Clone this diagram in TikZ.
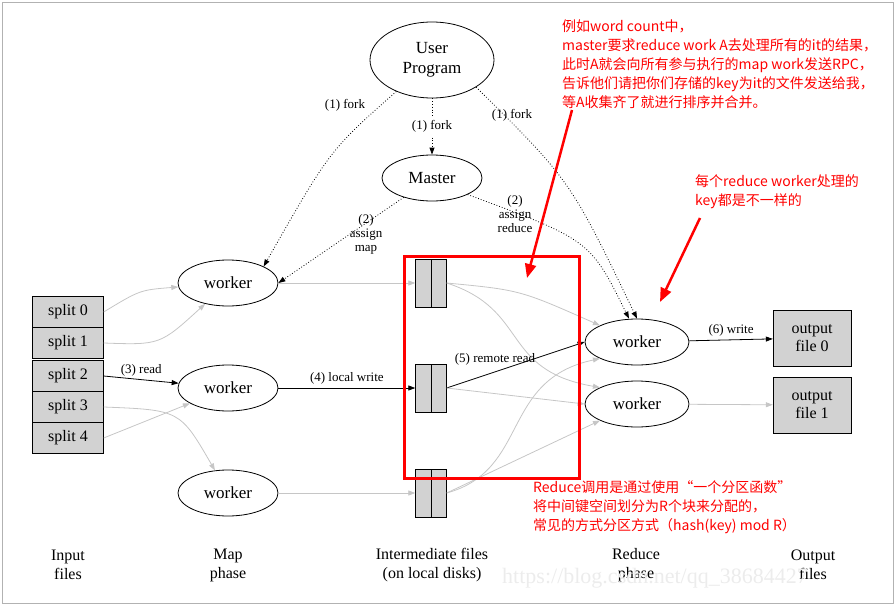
\documentclass[tikz,border=0pt]{standalone}
\usepackage{fontspec}
\setmainfont{Liberation Serif}
\newfontfamily\cjk{Noto Sans CJK SC}
\usetikzlibrary{shapes.geometric,arrows.meta}
\begin{document}
\begin{tikzpicture}[x=1pt,y=-1pt,
 ell/.style={ellipse,draw,thick,minimum width=100pt,minimum height=46pt,font=\fontsize{17}{17}\selectfont,inner sep=0pt},
 box/.style={draw,fill=gray!35,minimum width=71pt,minimum height=31pt,font=\fontsize{16}{16}\selectfont,inner sep=0pt},
 ofile/.style={draw,fill=gray!35,minimum width=78pt,minimum height=56pt,font=\fontsize{16}{18}\selectfont,align=center,inner sep=0pt},
 lab/.style={font=\fontsize{13}{14}\selectfont,align=center},
 gl/.style={draw=gray!45,thick,-{Triangle[length=7pt,width=5pt]}},
 bl/.style={draw=black,thick,-{Triangle[length=7pt,width=5pt]}},
 dl/.style={draw=black,thick,dotted,-{Triangle[length=7pt,width=5pt]}},
 phase/.style={font=\fontsize{16}{19}\selectfont,align=center},
 rt/.style={text=red,font=\cjk\fontsize{14}{19}\selectfont,align=left,anchor=north west,inner sep=0pt},
 ra/.style={draw=red,line width=2.5pt,-{Triangle[length=14pt,width=11pt]}}]
\useasboundingbox (0,0) rectangle (895,605);
\draw[gray!60] (2,2) rectangle (893,603);
% nodes
\node[ell,minimum width=124pt,minimum height=76pt,align=center,font=\fontsize{17}{20}\selectfont] (user) at (432,60) {User\\Program};
\node[ell] (master) at (432,178) {Master};
\node[ell] (w1) at (228,283) {worker};
\node[ell] (w2) at (228,388) {worker};
\node[ell] (w3) at (228,493) {worker};
\node[ell,minimum width=104pt] (r1) at (637,342) {worker};
\node[ell,minimum width=104pt] (r2) at (637,404) {worker};
\node[box] (s0) at (68,312) {split 0};
\node[box] (s1) at (68,343) {split 1};
\node[box] (s2) at (68,376) {split 2};
\node[box] (s3) at (68,407) {split 3};
\node[box] (s4) at (68,438) {split 4};
\foreach \n/\y in {f1/283,f2/388,f3/493}{
 \node[draw,fill=gray!35,minimum width=31pt,minimum height=48pt,inner sep=0pt] (\n) at (431,\y) {};
 \draw (431,\y-24) -- (431,\y+24);}
\node[ofile] (o0) at (812,338) {output\\file 0};
\node[ofile] (o1) at (812,405) {output\\file 1};
% dotted
\draw[dl] (user) .. controls (330,150) .. (w1.north east);
\node[lab] (l1) at (345,105) {(1) fork};
\draw[dl] (user) -- (master) node[lab,midway,fill=white] {(1) fork};
\draw[dl] (user.south east) .. controls (570,180) .. (r1.north);
\node[lab] (l3) at (512,115) {(1) fork};
\draw[dl] (master) -- (w1.east);
\node[lab] (l4) at (366,234) {(2)\\assign\\map};
\draw[dl] (master.south east) .. controls (590,240) .. ([xshift=-8pt]r1.north);
\node[lab] (l5) at (515,214) {(2)\\assign\\reduce};
% map phase
\draw[gl] (s0.east) .. controls (140,290) .. (w1);
\draw[gl] (s1.east) .. controls (160,345) .. (w1);
\draw[bl] (s2.east) -- (w2) node[lab,midway,above] {(3) read};
\draw[gl] (s3.east) .. controls (180,410) .. (w3);
\draw[gl] (s4.east) -- (w2);
\draw[gl] (w1) -- (f1);
\draw[bl] (w2) -- (f2) node[lab,midway,above] {(4) local write};
\draw[gl] (w3) -- (f3);
% reduce
\draw[gl] (f1.east) .. controls (520,290) .. (r1.north west);
\draw[gl] (f1.east) .. controls (530,310) and (500,370) .. (r2.north west);
\draw[bl] (f2.east) -- (r1.west) node[lab,pos=0.35,above=3pt] {(5) remote read};
\draw[gl] (f2.east) -- (r2.west);
\draw[gl] (f3.east) .. controls (530,470) and (500,380) .. (r1.south west);
\draw[gl] (f3.east) -- (r2.south west);
\draw[bl] (r1) -- (o0) node[lab,midway,above] {(6) write};
\draw[gl] (r2) -- (o1);
% phases
\node[phase] (p1) at (68,565) {Input\\files};
\node[phase] (p2) at (228,565) {Map\\phase};
\node[phase] (p3) at (432,565) {Intermediate files\\(on local disks)};
\node[phase] (p4) at (636,565) {Reduce\\phase};
\node[phase] (p5) at (813,565) {Output\\files};
\node[text=gray!15,font=\fontsize{22}{22}\selectfont] (wm) at (655,578) {https://blog.csdn.net/qq\_38684427};
% annotations
\draw[red,line width=3pt] (404,256) rectangle (579,478);
\node[rt] (t1) at (562,20) {例如word count中，\\master要求reduce work A去处理所有的it的结果，\\此时A就会向所有参与执行的map work发送RPC，\\告诉他们请把你们存储的key为it的文件发送给我，\\等A收集齐了就进行排序并合并。};
\node[rt] (t2) at (695,174) {每个reduce worker处理的\\key都是不一样的};
\node[rt] (t3) at (533,480) {Reduce调用是通过使用“一个分区函数”\\将中间键空间划分为R个块来分配的，\\常见的方式分区方式（hash(key) mod R）};
\coordinate (a1) at (572,110);
\coordinate (a1e) at (527,278);
\coordinate (a2) at (700,218);
\coordinate (a2e) at (660,302);
\draw[ra] (a1) -- (a1e);
\draw[ra] (a2) -- (a2e);
\end{tikzpicture}
\end{document}
